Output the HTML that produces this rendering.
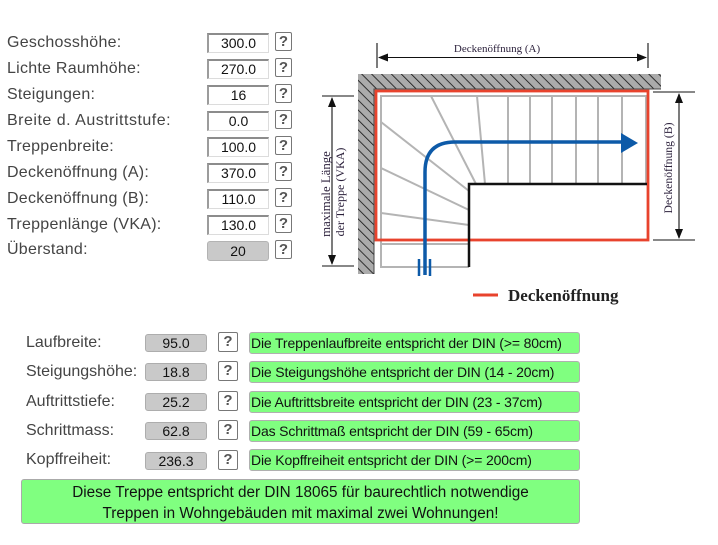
<!DOCTYPE html>
<html><head><meta charset="utf-8">
<style>
*{margin:0;padding:0;box-sizing:border-box}
body{width:718px;height:545px;background:#fff;position:relative;overflow:hidden;font-family:"Liberation Sans",Arial,sans-serif}
.l{position:absolute;font-size:16px;color:#444;line-height:20px;white-space:nowrap}
.t{letter-spacing:0.25px}
.in{position:absolute;left:207px;width:62px;height:20px;border-top:2px solid #8c8c8c;border-left:2px solid #9c9c9c;border-bottom:1px solid #dcdcdc;border-right:1px solid #dcdcdc;background:#fff;font-size:14px;color:#111;text-align:center;line-height:17px}
.gr{background:#c9c9c9;border:1px solid #b3b3b3;border-radius:3px;line-height:18px}
.q{position:absolute;width:17px;height:19px;border:1px solid #777;border-radius:2px;background:#fff;font-weight:bold;font-size:15px;color:#555;text-align:center;line-height:17px}
.bi{position:absolute;left:145px;width:62px;height:18px;background:#c9c9c9;border:1px solid #adadad;border-radius:3px;font-size:14px;color:#111;text-align:center;line-height:16px}
.bq{position:absolute;left:218px;width:20px;height:20px;border:1px solid #777;border-radius:2px;background:#fff;font-weight:bold;font-size:15px;color:#555;text-align:center;line-height:18px}
.g{position:absolute;left:249px;width:331px;height:22px;background:#80ff80;border:1px solid #b0b0b0;border-radius:3px;font-size:14px;letter-spacing:-0.15px;color:#111;line-height:20px;padding-left:1px;white-space:nowrap}
.big{position:absolute;left:21px;top:479px;width:559px;height:45px;background:#80ff80;border:1px solid #aaa;border-radius:3px;font-size:15.3px;color:#111;text-align:center;line-height:21px;padding-top:2px}
svg{position:absolute;left:0;top:0}
</style></head><body>

<div class="l t" style="left:7px;top:33px">Geschosshöhe:</div>
<div class="l t" style="left:7px;top:59px">Lichte Raumhöhe:</div>
<div class="l t" style="left:7px;top:85px">Steigungen:</div>
<div class="l t" style="left:7px;top:111px;letter-spacing:0.5px">Breite d. Austrittstufe:</div>
<div class="l t" style="left:7px;top:137px">Treppenbreite:</div>
<div class="l t" style="left:7px;top:163px">Deckenöffnung (A):</div>
<div class="l t" style="left:7px;top:189px">Deckenöffnung (B):</div>
<div class="l t" style="left:7px;top:215px">Treppenlänge (VKA):</div>
<div class="l t" style="left:7px;top:240px">Überstand:</div>

<div class="in" style="top:33px">300.0</div>
<div class="in" style="top:59px">270.0</div>
<div class="in" style="top:85px">16</div>
<div class="in" style="top:111px">0.0</div>
<div class="in" style="top:137px">100.0</div>
<div class="in" style="top:163px">370.0</div>
<div class="in" style="top:189px">110.0</div>
<div class="in" style="top:215px">130.0</div>
<div class="in gr" style="top:241px">20</div>

<div class="q" style="left:275px;top:32px">?</div>
<div class="q" style="left:275px;top:58px">?</div>
<div class="q" style="left:275px;top:84px">?</div>
<div class="q" style="left:275px;top:110px">?</div>
<div class="q" style="left:275px;top:136px">?</div>
<div class="q" style="left:275px;top:162px">?</div>
<div class="q" style="left:275px;top:188px">?</div>
<div class="q" style="left:275px;top:214px">?</div>
<div class="q" style="left:275px;top:240px">?</div>

<svg width="718" height="545" viewBox="0 0 718 545" xmlns="http://www.w3.org/2000/svg">
<defs>
<pattern id="h" patternUnits="userSpaceOnUse" width="7" height="7" patternTransform="rotate(-45)">
<rect width="7" height="7" fill="#ababab"/>
<line x1="0" y1="0" x2="0" y2="7" stroke="#111" stroke-width="1.6"/>
</pattern>
</defs>
<path d="M358,74 L661,74 L661,89 L374,89 L374,274 L358,274 Z" fill="url(#h)"/>
<path d="M661,89 L374,89 L374,274" fill="none" stroke="#444" stroke-width="1"/>

<g stroke="#b4b4b4" stroke-width="2" fill="none">
<path d="M469,267 L381,267 L381,96 L646,96 L646,184"/>
<line x1="381" y1="244" x2="469" y2="244"/>
<line x1="508" y1="96" x2="508" y2="184"/>
<line x1="530" y1="96" x2="530" y2="184"/>
<line x1="552" y1="96" x2="552" y2="184"/>
<line x1="576" y1="96" x2="576" y2="184"/>
<line x1="598" y1="96" x2="598" y2="184"/>
<line x1="622" y1="96" x2="622" y2="184"/>
<line x1="431" y1="96" x2="476" y2="184"/>
<line x1="477" y1="96" x2="485" y2="184"/>
<line x1="381" y1="122" x2="469" y2="191"/>
<line x1="381" y1="168" x2="469" y2="210"/>
<line x1="381" y1="213" x2="469" y2="225"/>
</g>

<rect x="376" y="91" width="272" height="149" fill="none" stroke="#e8432d" stroke-width="2.8"/>

<path d="M469,267 L469,184 L647,184" fill="none" stroke="#111" stroke-width="2.5"/>

<path d="M425,275 L425,172 Q425,142 455,142 L622,142" fill="none" stroke="#0d5aa8" stroke-width="3.5"/>
<polygon points="621,133 638,143 621,153" fill="#0d5aa8"/>
<line x1="419" y1="259" x2="419" y2="276" stroke="#0d5aa8" stroke-width="2.5"/>
<line x1="430" y1="259" x2="430" y2="276" stroke="#0d5aa8" stroke-width="2.5"/>

<g stroke="#111" stroke-width="1.1">
<line x1="377" y1="43" x2="377" y2="68"/>
<line x1="648" y1="43" x2="648" y2="68"/>
<line x1="379" y1="57.5" x2="646" y2="57.5"/>
<line x1="653" y1="92" x2="695" y2="92"/>
<line x1="653" y1="240" x2="695" y2="240"/>
<line x1="679" y1="94" x2="679" y2="238"/>
<line x1="322" y1="96" x2="354" y2="96"/>
<line x1="322" y1="266" x2="354" y2="266"/>
<line x1="332" y1="98" x2="332" y2="264"/>
</g>
<g fill="#111">
<polygon points="378,57.5 388,53.5 388,61.5"/>
<polygon points="647,57.5 637,53.5 637,61.5"/>
<polygon points="679,93 675,103 683,103"/>
<polygon points="679,239 675,229 683,229"/>
<polygon points="332,97 328,107 336,107"/>
<polygon points="332,265 328,255 336,255"/>
</g>
<g font-family="'Liberation Serif',serif" fill="#2a1f3a" text-anchor="middle">
<text x="497" y="52" font-size="11">Deckenöffnung (A)</text>
<text transform="translate(672,168) rotate(-90)" font-size="11.7">Deckenöffnung (B)</text>
<text transform="translate(330,194) rotate(-90)" font-size="12.8">maximale Länge</text>
<text transform="translate(344,192) rotate(-90)" font-size="12">der Treppe (VKA)</text>
</g>

<line x1="473" y1="295" x2="498" y2="295" stroke="#e8432d" stroke-width="3"/>
<text x="508" y="301" font-family="'Liberation Serif',serif" font-weight="bold" font-size="17" fill="#222">Deckenöffnung</text>
</svg>

<div class="l" style="left:26px;top:333px">Laufbreite:</div>
<div class="l" style="left:26px;top:362px">Steigungshöhe:</div>
<div class="l" style="left:26px;top:392px">Auftrittstiefe:</div>
<div class="l" style="left:26px;top:421px">Schrittmass:</div>
<div class="l" style="left:26px;top:450px">Kopffreiheit:</div>

<div class="bi" style="top:334px">95.0</div>
<div class="bi" style="top:363px">18.8</div>
<div class="bi" style="top:393px">25.2</div>
<div class="bi" style="top:422px">62.8</div>
<div class="bi" style="top:452px">236.3</div>

<div class="bq" style="top:332px">?</div>
<div class="bq" style="top:361px">?</div>
<div class="bq" style="top:391px">?</div>
<div class="bq" style="top:420px">?</div>
<div class="bq" style="top:450px">?</div>

<div class="g" style="top:332px">Die Treppenlaufbreite entspricht der DIN (&gt;= 80cm)</div>
<div class="g" style="top:361px">Die Steigungshöhe entspricht der DIN (14 - 20cm)</div>
<div class="g" style="top:391px">Die Auftrittsbreite entspricht der DIN (23 - 37cm)</div>
<div class="g" style="top:420px">Das Schrittmaß entspricht der DIN (59 - 65cm)</div>
<div class="g" style="top:449px">Die Kopffreiheit entspricht der DIN (&gt;= 200cm)</div>

<div class="big">Diese Treppe entspricht der DIN 18065 für baurechtlich notwendige<br>Treppen in Wohngebäuden mit maximal zwei Wohnungen!</div>

</body></html>
